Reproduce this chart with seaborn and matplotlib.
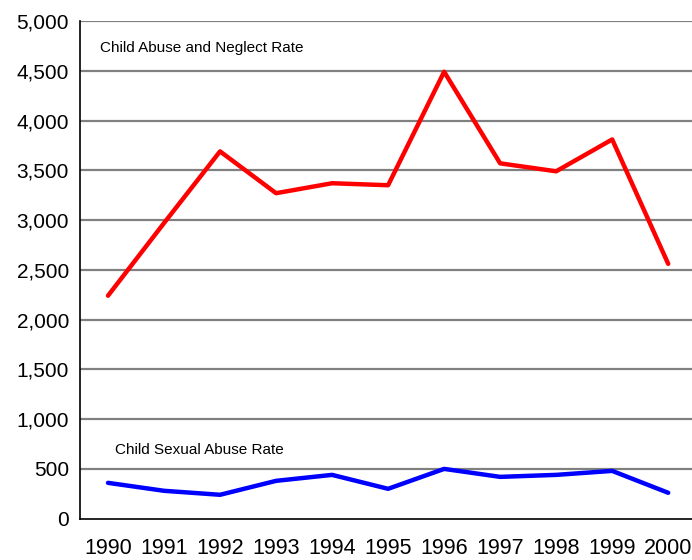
import numpy as np
import pandas as pd
import matplotlib
matplotlib.use("Agg")
import matplotlib.pyplot as plt
import seaborn as sns

years = [1990, 1991, 1992, 1993, 1994, 1995, 1996, 1997, 1998, 1999, 2000]
abuse_neglect = [2240, 2970, 3690, 3270, 3370, 3350, 4490, 3570, 3490, 3810, 2560]
sexual_abuse = [360, 280, 240, 380, 440, 300, 500, 420, 440, 480, 260]
y_ticks = [0, 500, 1000, 1500, 2000, 2500, 3000, 3500, 4000, 4500, 5000]

df = pd.DataFrame({
    "year": years * 2,
    "rate": abuse_neglect + sexual_abuse,
    "series": ["Child Abuse and Neglect Rate"] * len(years) + ["Child Sexual Abuse Rate"] * len(years),
})

sns.set_style("white")
plt.rcParams["font.family"] = ["Liberation Sans", "DejaVu Sans"]
plt.rcParams["text.color"] = "black"
plt.rcParams["xtick.color"] = "black"
plt.rcParams["ytick.color"] = "black"

fig = plt.figure(figsize=(6.92, 5.60), dpi=100)
ax = fig.add_axes([0.1156, 0.0738, 0.8905, 0.8887])

sns.lineplot(data=df, x="year", y="rate", hue="series",
             palette=["#FF0000", "#0000FF"], linewidth=3.2, legend=False, ax=ax)

ax.set_xlim(years[0] - 0.5, years[-1] + 0.5)
ax.set_ylim(0, 5000)
ax.set_yticks(y_ticks)
ax.set_yticklabels([f"{v:,}" for v in y_ticks], fontsize=15)
ax.set_xticks(years)
ax.set_xticklabels([str(y) for y in years], fontsize=15.5)
ax.set_xticks(np.arange(years[0] - 0.5, years[-1] + 0.6, 1), minor=True)
ax.tick_params(axis="x", which="major", length=0, pad=14)
ax.tick_params(axis="x", which="minor", length=5, width=1.2, color="black", direction="out")
ax.tick_params(axis="y", length=5, width=1.2, color="black", direction="out", pad=3)
ax.set_xlabel("")
ax.set_ylabel("")

for v in y_ticks[1:]:
    ax.axhline(v, color="#808080", linewidth=1.6, zorder=0)

for side in ["top", "right"]:
    ax.spines[side].set_visible(False)
ax.spines["left"].set_color("black")
ax.spines["left"].set_linewidth(1.2)
ax.spines["bottom"].set_color("black")
ax.spines["bottom"].set_linewidth(1.2)

ax.text(1989.85, 4730, "Child Abuse and Neglect Rate", fontsize=11, va="center", ha="left")
ax.text(1990.12, 690, "Child Sexual Abuse Rate", fontsize=11, va="center", ha="left")

fig.savefig("out.png", dpi=100)
